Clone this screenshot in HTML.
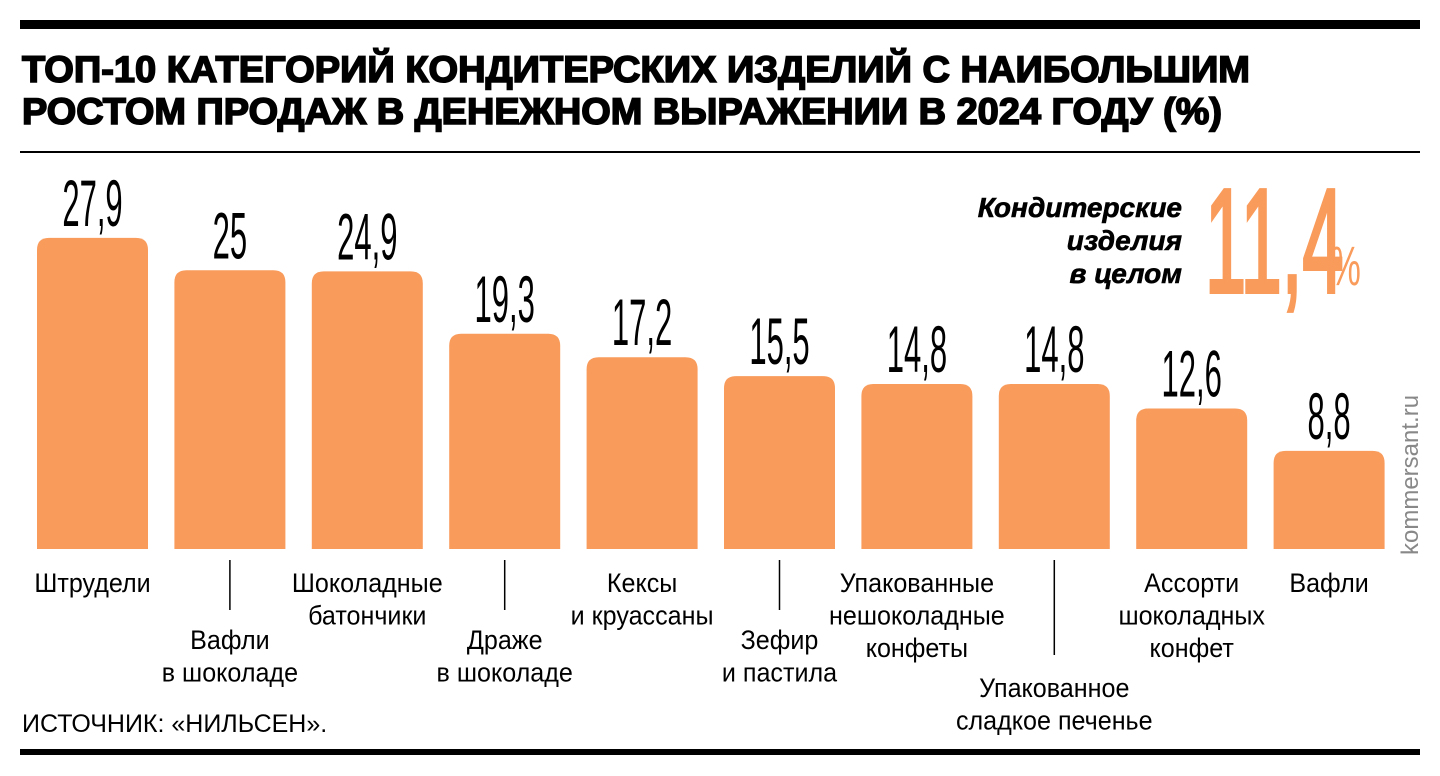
<!DOCTYPE html>
<html><head><meta charset="utf-8"><style>
html,body{margin:0;padding:0;background:#fff;}
svg{display:block;font-family:"Liberation Sans","DejaVu Sans",sans-serif;}
</style></head><body>
<svg id="c" width="1440" height="776" viewBox="0 0 1440 776">
<rect x="20" y="20" width="1400" height="9" fill="#000"/>
<text x="22" y="82" font-size="37" font-weight="bold" stroke="#000" stroke-width="1.6" textLength="1228" lengthAdjust="spacingAndGlyphs">ТОП-10 КАТЕГОРИЙ КОНДИТЕРСКИХ ИЗДЕЛИЙ С НАИБОЛЬШИМ</text>
<text x="22" y="124" font-size="37" font-weight="bold" stroke="#000" stroke-width="1.6" textLength="1200" lengthAdjust="spacingAndGlyphs">РОСТОМ ПРОДАЖ В ДЕНЕЖНОМ ВЫРАЖЕНИИ В 2024 ГОДУ (%)</text>
<rect x="20" y="151" width="1400" height="2" fill="#000"/>
<g>
<text x="1182" y="217" font-size="28" font-weight="bold" font-style="italic" stroke="#000" stroke-width="0.6" text-anchor="end">Кондитерские</text>
<text x="1182" y="250" font-size="28" font-weight="bold" font-style="italic" stroke="#000" stroke-width="0.6" text-anchor="end">изделия</text>
<text x="1182" y="283" font-size="28" font-weight="bold" font-style="italic" stroke="#000" stroke-width="0.6" text-anchor="end">в целом</text>
<text transform="translate(1205,292) scale(0.5,1)" font-size="148" fill="#F99B5B" stroke="#F99B5B" stroke-width="4">11,4</text>
<text transform="translate(1330,285) scale(0.62,1)" font-size="56" fill="#F99B5B">%</text>
</g>
<g id="bars"></g>
<text transform="translate(1418,555) rotate(-90)" font-size="24" fill="#888">kommersant.ru</text>
<text x="22" y="732" font-size="25">ИСТОЧНИК: «НИЛЬСЕН».</text>
<rect x="20" y="749" width="1400" height="6" fill="#000"/>
</svg>
<script>
const categories=[["Штрудели"],["Вафли","в шоколаде"],["Шоколадные","батончики"],["Драже","в шоколаде"],["Кексы","и круассаны"],["Зефир","и пастила"],["Упакованные","нешоколадные","конфеты"],["Упакованное","сладкое печенье"],["Ассорти","шоколадных","конфет"],["Вафли"]];
const values=[27.9,25,24.9,19.3,17.2,15.5,14.8,14.8,12.6,8.8];
const valueLabels=["27,9","25","24,9","19,3","17,2","15,5","14,8","14,8","12,6","8,8"];
const labelLevels=[0,1,0,1,0,1,0,2,0,0];
const NS="http://www.w3.org/2000/svg";
const g=document.getElementById('bars');
const base=549,k=11.15,x0=37,step=137.4,bw=111;
const y=v=>base-v*k;
function mk(t,a){const e=document.createElementNS(NS,t);for(const n in a)e.setAttribute(n,a[n]);return e;}
values.forEach((v,i)=>{
 const x=x0+i*step,cx=x+bw/2,top=y(v);
 const r=mk('path',{d:`M${x},${base} L${x},${top+12} Q${x},${top} ${x+12},${top} L${x+bw-12},${top} Q${x+bw},${top} ${x+bw},${top+12} L${x+bw},${base} Z`,fill:'#F99B5B'});
 
 
 g.appendChild(r);
 const t=mk('text',{transform:`translate(${cx},${top-12}) scale(0.47,1)`,'font-size':66,'text-anchor':'middle'});
 t.textContent=valueLabels[i];
 
 
 g.appendChild(t);
 const lv=labelLevels[i];
 const firstBase=[592,649,697][lv];
 if(lv>0){
  const l=mk('line',{x1:cx,x2:cx,y1:560,y2:lv==1?610:655,stroke:'#000','stroke-width':1.5});
  
  
  g.appendChild(l);
 }
 categories[i].forEach((s,j)=>{
  const tt=mk('text',{x:cx,y:firstBase+j*32.5,'font-size':27,'text-anchor':'middle'});
  tt.setAttribute('transform',`translate(${cx},0) scale(0.93,1) translate(${-cx},0)`);
  tt.textContent=s;
  
  
  g.appendChild(tt);
 });
});
</script>
</body></html>
